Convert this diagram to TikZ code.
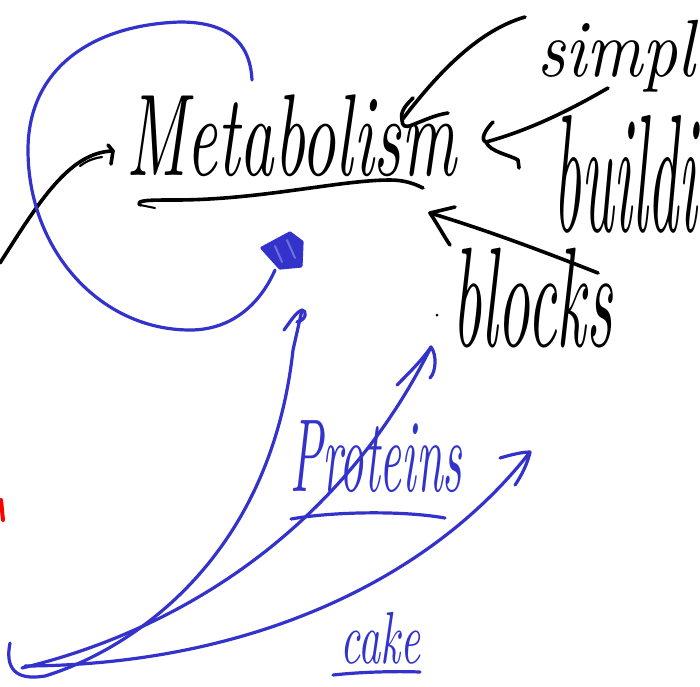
\documentclass[tikz,border=0pt]{standalone}
\usepackage{graphicx}
\definecolor{pen}{RGB}{51,51,204}
\definecolor{ink}{RGB}{0,0,0}
\tikzset{
  blk/.style={draw=ink, line width=3.6pt, line cap=round, line join=round},
  blu/.style={draw=pen, line width=3.2pt, line cap=round, line join=round},
  word/.style={inner sep=0pt, anchor=north west}
}
\begin{document}
\begin{tikzpicture}[x=1pt,y=-1pt]
\useasboundingbox (0,0) rectangle (700,686);
% words
\node[word] (met) at (126,95) {\resizebox*{330pt}{82pt}{\itshape Metabolism}};
\node[word] (sim) at (537,20) {\resizebox*{158pt}{72pt}{\itshape simpl}};
\node[word] (bui) at (553,115) {\resizebox*{144pt}{118pt}{\itshape buildi}};
\node[word] (blo) at (452,248) {\resizebox*{160pt}{100pt}{\itshape blocks}};
\node[word, text=pen] (pro) at (290,420) {\resizebox*{172pt}{72pt}{\itshape Proteins}};
\node[word, text=pen] (cak) at (340,612) {\resizebox*{80pt}{52pt}{\itshape cake}};
% coordinates
\coordinate (ml) at (0,263);
\coordinate (mt) at (113,151);
\coordinate (s0) at (525,17);
\coordinate (st) at (402,120);
\coordinate (b0) at (608,88);
\coordinate (bt) at (486,142);
\coordinate (k0) at (598,273);
\coordinate (kt) at (430,213);
\coordinate (o) at (22,668);
\coordinate (ta) at (302,310);
\coordinate (tb) at (431,347);
\coordinate (tc) at (530,452);
% underline of Metabolism
\draw[blk] (140,205) .. controls (135,200) and (150,200) .. (175,200)
  .. controls (260,200) and (340,180) .. (390,180) .. controls (405,180) and (415,184) .. (423,188);
\draw[blk, line width=2pt] (140,205) -- (155,208);
% black arrow from left
\draw[blk] (ml) .. controls (40,200) and (70,152) .. (mt);
\draw[blk] (108,145) -- (mt) -- (111,164);
\draw[blk, line width=2.2pt] (80,166) .. controls (88,160) and (95,158) .. (102,157);
% simple arrow
\draw[blk] (s0) .. controls (480,30) and (440,70) .. (st);
\draw[blk] (413,98) .. controls (405,106) and (400,112) .. (st) .. controls (402,126) and (405,128) .. (412,125)
  .. controls (425,120) and (435,115) .. (448,113);
% building arrow
\draw[blk] (b0) .. controls (570,110) and (530,130) .. (bt);
\draw[blk] (493,122) .. controls (485,130) and (480,140) .. (bt) .. controls (490,152) and (510,155) .. (518,160) -- (519,168);
% blocks arrow
\draw[blk] (k0) .. controls (540,250) and (480,228) .. (kt);
\draw[blk] (455,207) -- (kt) .. controls (438,225) and (445,238) .. (450,245);
\fill[ink] (437,315) circle (1.5pt);
% blue loop
\draw[blu] (252,80) .. controls (250,40) and (225,22) .. (180,22)
  .. controls (90,25) and (28,70) .. (28,150)
  .. controls (28,250) and (100,330) .. (190,330)
  .. controls (235,330) and (262,300) .. (275,270);
\draw[blu, fill=pen] (262,248) -- (290,233) -- (302,242) -- (301,266) -- (280,268) -- cycle;
\draw[blu, line width=2pt, draw=pen!70] (275,246) -- (282,262) (287,240) -- (295,258);
% underlines
\draw[blu] (291,519) .. controls (330,512) and (400,510) .. (445,518);
\draw[blu] (333,675) .. controls (360,672) and (395,671) .. (420,672);
% blue arrows
\draw[blu] (10,643) .. controls (5,668) and (15,681) .. (45,676)
  .. controls (130,650) and (270,560) .. (293,350) -- (ta);
\draw[blu] (284,330) .. controls (290,322) and (296,312) .. (ta) .. controls (307,310) and (307,320) .. (297,322);
\draw[blu] (o) .. controls (180,630) and (340,530) .. (tb);
\draw[blu] (397,385) .. controls (410,372) and (422,360) .. (tb) .. controls (437,355) and (436,372) .. (430,378);
\draw[blu] (25,666) .. controls (250,665) and (430,580) .. (tc);
\draw[blu] (500,458) .. controls (510,455) and (522,452) .. (tc) .. controls (528,462) and (522,475) .. (515,485);
% red mark
\draw[red, line width=4pt, line cap=round] (1,500) -- (3,520);
\end{tikzpicture}
\end{document}
